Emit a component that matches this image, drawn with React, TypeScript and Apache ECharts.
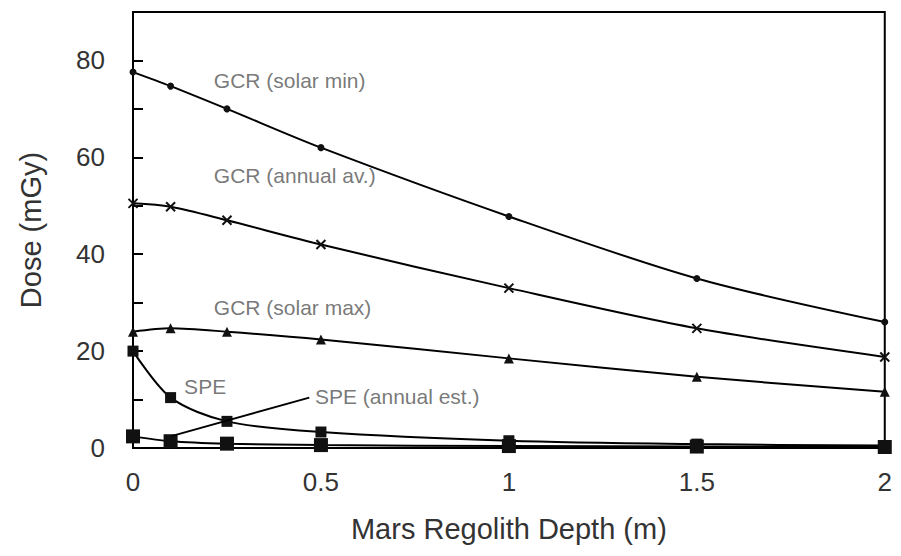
import React, { useEffect, useRef } from "react";
import * as echarts from "echarts";

// Regolith depth (m) at which dose was computed
const depths = [0, 0.1, 0.25, 0.5, 1, 1.5, 2];

// Dose (mGy) per environment
const gcrSolarMin = [77.6, 74.7, 70, 62, 47.8, 35, 26];
const gcrAnnualAv = [50.5, 49.8, 47, 42, 33, 24.7, 18.8];
const gcrSolarMax = [24, 24.7, 24, 22.4, 18.5, 14.7, 11.6];
const spe = [20, 10.4, 5.5, 3.3, 1.5, 0.8, 0.5];
const speAnnualEst = [2.4, 1.4, 0.9, 0.6, 0.4, 0.3, 0.2];

// In-plot curve labels: [text, depth, dose]
const curveLabels: [string, number, number][] = [
  ["GCR (solar min)", 0.215, 75.9],
  ["GCR (annual av.)", 0.215, 56.3],
  ["GCR (solar max)", 0.215, 29],
  ["SPE", 0.136, 12.7],
  ["SPE (annual est.)", 0.484, 10.6],
];

// Leader from the "SPE (annual est.)" label down to its curve
const speLeader: [number, number][] = [
  [0.469, 10.4],
  [0.102, 2.45],
];

const FONT = "Liberation Sans, Arial, sans-serif";
const crossPath = "path://M0,0L10,10M10,0L0,10";

function lineSeries(name: string, values: number[], symbol: string, size: number, extra: any = {}) {
  return {
    name,
    type: "line",
    data: depths.map((d, i) => [d, values[i]]),
    smooth: 0.3,
    symbol,
    symbolSize: size,
    showAllSymbol: true,
    lineStyle: { color: "#000", width: 2 },
    itemStyle: { color: "#111", borderColor: "#111", borderWidth: symbol === crossPath ? 2 : 0 },
    emphasis: { disabled: true },
    z: 3,
    ...extra,
  };
}

export default function App() {
  const ref = useRef<HTMLDivElement>(null);

  useEffect(() => {
    if (!ref.current) return;
    const chart = echarts.init(ref.current, undefined, { renderer: "svg" });
    chart.setOption({
      animation: false,
      backgroundColor: "#fff",
      textStyle: { fontFamily: FONT },
      grid: {
        left: 120,
        right: 2,
        top: 4,
        bottom: 94,
        show: true,
        borderColor: "#000",
        borderWidth: 2,
      },
      xAxis: {
        type: "value",
        min: 0,
        max: 2,
        interval: 0.5,
        name: "Mars Regolith Depth (m)",
        nameLocation: "middle",
        nameGap: 66,
        nameTextStyle: { color: "#333", fontSize: 29, fontFamily: FONT },
        axisLine: { show: true, lineStyle: { color: "#000", width: 2 } },
        axisTick: { show: false },
        splitLine: { show: false },
        axisLabel: {
          color: "#333",
          fontSize: 26,
          margin: 21,
          formatter: (v: number) => String(v),
        },
      },
      yAxis: {
        type: "value",
        min: 0,
        max: 90,
        interval: 10,
        name: "Dose (mGy)",
        nameLocation: "middle",
        nameGap: 88,
        nameTextStyle: { color: "#333", fontSize: 29, fontFamily: FONT },
        axisLine: { show: true, lineStyle: { color: "#000", width: 2 } },
        axisTick: { show: true, inside: true, length: 10, lineStyle: { color: "#000", width: 2 } },
        splitLine: { show: false },
        axisLabel: {
          color: "#333",
          fontSize: 26,
          margin: 28,
          formatter: (v: number) => (v % 20 === 0 && v < 90 ? String(v) : ""),
        },
      },
      series: [
        lineSeries("GCR (solar min)", gcrSolarMin, "circle", 7),
        lineSeries("GCR (annual av.)", gcrAnnualAv, crossPath, 9),
        lineSeries("GCR (solar max)", gcrSolarMax, "triangle", 10),
        lineSeries("SPE", spe, "rect", 11),
        lineSeries("SPE (annual est.)", speAnnualEst, "rect", 14, {
          markLine: {
            silent: true,
            symbol: "none",
            label: { show: false },
            lineStyle: { color: "#000", width: 2, type: "solid" },
            data: [[{ coord: speLeader[0] }, { coord: speLeader[1] }]],
          },
        }),
        {
          type: "scatter",
          symbolSize: 0,
          silent: true,
          data: curveLabels.map(([t, x, y]) => ({ name: t, value: [x, y] })),
          label: {
            show: true,
            position: "right",
            distance: 0,
            color: "#555",
            fontSize: 21,
            fontFamily: FONT,
            formatter: (p: any) => p.name,
          },
          z: 5,
        },
      ],
    });
    return () => chart.dispose();
  }, []);

  return <div ref={ref} style={{ width: 887, height: 540 }} />;
}
